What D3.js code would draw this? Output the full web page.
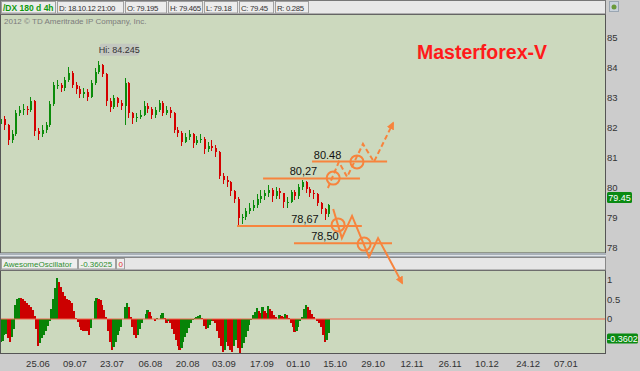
<!DOCTYPE html>
<html>
<head>
<meta charset="utf-8">
<script src="https://cdn.jsdelivr.net/npm/d3@7"></script>
<style>
  body { margin: 0; background: #cccccc; }
  svg { display: block; font-family: "Liberation Sans", Arial, sans-serif; }
</style>
</head>
<body>
<svg id="chart" width="640" height="371"></svg>
<script>
// /DX 4h chart, one candle per trading day
var firstOpen = 82.15;
var closes = [82.3,82.1,81.6,81.8,82.5,82.6,82.65,82.6,82.9,81.9,
  81.8,81.95,82.1,82.8,83.43,83.45,83.33,83.6,83.85,83.45,
  83.3,83.12,83.2,83.05,83.5,83.88,84.1,83.8,82.9,82.7,
  83.0,82.85,82.75,83.5,82.5,82.33,82.38,82.45,82.75,82.65,
  82.45,82.6,82.85,82.5,82.6,82.5,81.95,81.85,81.55,81.7,
  81.8,81.5,81.6,81.65,81.3,81.4,81.35,81.2,80.4,80.28,
  80.2,79.9,79.65,79.0,79.02,79.25,79.35,79.42,79.65,79.75,
  79.82,79.93,79.75,79.9,79.82,79.53,79.55,79.87,79.72,80.03,
  80.2,79.98,79.85,79.8,79.5,79.3,79.12,79.45];
var highs = [82.45,82.4,82.15,81.95,82.6,82.75,82.8,82.75,83.05,82.95,
  82.0,82.1,82.2,82.9,83.55,83.6,83.5,83.7,84.05,83.9,
  83.55,83.4,83.35,83.3,83.6,84.0,84.245,84.15,83.85,83.0,
  83.1,83.05,82.95,83.67,83.55,82.55,82.5,82.6,82.9,82.85,
  82.7,82.7,82.95,82.9,82.75,82.7,82.55,82.05,81.9,81.85,
  81.95,81.85,81.75,81.8,81.7,81.55,81.6,81.45,81.25,80.5,
  80.4,80.25,79.95,79.7,79.15,79.35,79.5,79.6,79.8,79.95,
  79.95,80.1,80.0,80.05,80.0,79.85,79.7,79.95,79.95,80.15,
  80.27,80.25,80.05,79.95,79.85,79.55,79.35,79.47];
var lows = [82.0,81.95,81.45,81.5,81.75,82.4,82.45,82.45,82.55,81.75,
  81.6,81.7,81.85,82.05,82.75,83.3,83.2,83.25,83.55,83.35,
  83.15,83.0,83.0,82.9,83.0,83.45,83.8,83.7,82.75,82.55,
  82.65,82.7,82.6,82.1,82.35,82.15,82.2,82.3,82.4,82.5,
  82.3,82.35,82.55,82.4,82.45,82.35,81.85,81.7,81.4,81.5,
  81.6,81.35,81.45,81.5,81.15,81.2,81.25,81.05,80.3,80.15,
  80.05,79.75,79.5,78.7,78.8,78.95,79.15,79.25,79.35,79.5,
  79.6,79.7,79.55,79.65,79.65,79.35,79.35,79.5,79.6,79.65,
  79.95,79.85,79.7,79.65,79.4,79.15,78.95,79.05];

// Awesome Oscillator, two values per trading day
var aoValues = [-0.6,-0.57,-0.42,-0.38,-0.5,-0.6,-0.45,-0.25,0.35,0.52,
  0.55,0.53,0.5,0.45,0.4,0.37,0.31,0.22,0.08,-0.25,
  -0.68,-0.62,-0.5,-0.4,-0.3,-0.18,-0.05,0.25,0.5,0.8,
  1.05,0.95,0.82,0.7,0.6,0.52,0.48,0.45,0.4,0.2,
  0.02,-0.08,-0.2,-0.27,-0.3,-0.3,-0.32,-0.4,-0.22,0.0,
  0.45,0.55,0.5,0.48,0.35,0.22,0.05,-0.3,-0.6,-0.8,
  -0.72,-0.58,-0.42,-0.3,-0.2,0.0,0.3,0.42,0.3,0.05,
  -0.2,-0.42,-0.48,-0.42,-0.25,-0.1,0.0,0.12,0.23,0.18,
  0.08,0.0,-0.05,0.03,0.0,0.1,0.15,0.02,-0.1,-0.06,
  -0.1,-0.25,-0.38,-0.55,-0.68,-0.8,-0.75,-0.6,-0.45,-0.35,
  -0.22,-0.1,-0.02,0.03,0.05,0.08,0.1,0.02,-0.18,-0.25,
  -0.23,-0.15,-0.05,-0.05,-0.1,-0.3,-0.5,-0.7,-0.85,-0.8,
  -0.6,-0.7,-0.8,-0.85,-0.7,-0.55,-0.75,-0.9,-0.75,-0.62,
  -0.45,-0.3,-0.15,-0.02,0.1,0.18,0.27,0.2,0.15,0.3,
  0.2,0.15,0.33,0.25,0.2,0.1,0.05,0.0,0.1,0.08,
  0.05,0.12,0.1,0.03,-0.1,-0.2,-0.33,-0.3,-0.2,-0.05,
  0.05,0.25,0.37,0.3,0.22,0.12,0.05,0.0,-0.05,-0.1,
  -0.2,-0.4,-0.6,-0.55,-0.36];

// trading-day index of each date label (holidays make the spacing uneven)
var dateTickDays = [10,19.8,29.6,39.8,49.7,59.3,69.4,79,88.8,98.9,109.2,119.3,129.1,140,150];
var dateLabels = ["25.06","09.07","23.07","06.08","20.08","03.09","17.09","01.10",
  "15.10","29.10","12.11","26.11","10.12","24.12","07.01"];
var priceTicks = [78,79,80,81,82,83,84,85];
var aoTicks = [1, 0.5, 0, -0.5];

var headerCells = ["/DX 180 d 4h","D: 18.10.12 21:00","O: 79.195","H: 79.465","L: 79.18","C: 79.45","R: 0.285"];
var lastPrice = 79.45;
var lastAO = "-0.36025";

// hand drawn levels and forecast zigzags (day index, price)
var levelPrices = [80.88, 80.32, 78.73, 78.16];
var levelLabels = ["80.48", "80,27", "78,67", "78,50"];
var levelFrom = [82.7, 69.7, 62.8, 77.9];
var levelTo = [102.6, 95.4, 95.9, 103.9];
var levelLabelDay = [86.8, 80.4, 80.8, 86.1];
var upDays = [86.9, 89.8, 92.0, 96.2, 99.1, 104.2];
var upPrices = [80.0, 80.87, 80.37, 81.47, 80.87, 82.17];
var downDays = [88.3, 90.6, 93.3, 97.8, 100.2, 106.6];
var downPrices = [79.3, 78.33, 79.07, 77.7, 78.33, 76.83];
var circleDays = [88.3, 94.6, 89.6, 96.5];
var circlePrices = [80.33, 80.87, 78.77, 78.13];

var GREEN = "#0b8c0b", RED = "#d40000", ORANGE = "#f7843d";
var BG = "#ccd9be";

var svg = d3.select("#chart");
var W = 640, H = 371, panelR = 605;

var x = d3.scaleLinear().domain([0, 160]).range([0.3, 0.3 + 160 * 3.77]);
var y = d3.scaleLinear().domain([78, 85]).range([248, 38]);
var yAO = d3.scaleLinear().domain([-0.872, 1.256]).range([353, 270]);

// backgrounds
svg.append("rect").attr("width", W).attr("height", H).attr("fill", "#cccccc");
svg.append("rect").attr("x", 0.5).attr("y", 14.5).attr("width", panelR).attr("height", 238.5)
  .attr("fill", BG).attr("stroke", "#555").attr("stroke-width", 1);
svg.append("rect").attr("x", 0.5).attr("y", 270.5).attr("width", panelR).attr("height", 83)
  .attr("fill", BG).attr("stroke", "#555").attr("stroke-width", 1);

svg.append("clipPath").attr("id", "clipMain").append("rect")
  .attr("x", 1).attr("y", 15).attr("width", panelR - 1).attr("height", 238);
svg.append("clipPath").attr("id", "clipAO").append("rect")
  .attr("x", 1).attr("y", 271).attr("width", panelR - 1).attr("height", 82);

// separator band between panels
svg.append("rect").attr("x", 0).attr("y", 253).attr("width", panelR + 1).attr("height", 4)
  .attr("fill", "#a9b1b9");
svg.append("line").attr("x1", 0).attr("x2", panelR + 1).attr("y1", 255.5).attr("y2", 255.5)
  .attr("stroke", "#e0e4e8");
svg.append("rect").attr("x", 0.5).attr("y", 257.5).attr("width", panelR).attr("height", 12.5)
  .attr("fill", "#e6e6e6").attr("stroke", "#888");

// candles
var bars = closes.map(function(c, i) {
  return { d: i, o: i == 0 ? firstOpen : closes[i - 1], h: highs[i], l: lows[i], c: c };
});
var gc = svg.append("g").attr("clip-path", "url(#clipMain)").attr("shape-rendering", "crispEdges");
var cand = gc.selectAll("g.c").data(bars).enter().append("g").attr("class", "c");
cand.append("line")
  .attr("x1", function(b) { return Math.round(x(b.d)) + 0.5; })
  .attr("x2", function(b) { return Math.round(x(b.d)) + 0.5; })
  .attr("y1", function(b) { return y(b.h); })
  .attr("y2", function(b) { return y(b.l); })
  .attr("stroke", function(b) { return b.c >= b.o ? GREEN : RED; })
  .attr("stroke-width", 1);
cand.append("rect")
  .attr("x", function(b) { return Math.round(x(b.d)) - 0.5; })
  .attr("width", 2)
  .attr("y", function(b) { return y(Math.max(b.o, b.c)); })
  .attr("height", function(b) { return Math.max(1, Math.abs(y(b.o) - y(b.c))); })
  .attr("fill", function(b) { return b.c >= b.o ? GREEN : RED; });

// AO histogram
var ga = svg.append("g").attr("clip-path", "url(#clipAO)").attr("shape-rendering", "crispEdges");
ga.selectAll("rect").data(aoValues).enter().append("rect")
  .attr("x", function(v, i) { return x(i / 2 - 0.25); })
  .attr("width", x(0.5) - x(0) + 0.4)
  .attr("y", function(v) { return Math.min(yAO(v), yAO(0)); })
  .attr("height", function(v) { return Math.abs(yAO(v) - yAO(0)); })
  .attr("fill", function(v, i) { return (i == 0 || v > aoValues[i - 1]) ? "#078407" : "#cc0000"; });
svg.append("line").attr("x1", 1).attr("x2", panelR).attr("y1", yAO(0)).attr("y2", yAO(0))
  .attr("stroke", "#f0644a").attr("stroke-width", 1.2);

// right axes
svg.selectAll("text.pt").data(priceTicks).enter().append("text")
  .attr("x", 607).attr("y", function(p) { return y(p); }).attr("dy", "0.35em")
  .attr("font-size", 9.5).attr("fill", "#333").text(function(p) { return p; });
svg.selectAll("text.at").data(aoTicks).enter().append("text")
  .attr("x", 607).attr("y", function(v) { return yAO(v); }).attr("dy", "0.35em")
  .attr("font-size", 9.5).attr("fill", "#333").text(function(v) { return v; });

// bottom date axis
svg.selectAll("text.dt").data(dateTickDays).enter().append("text")
  .attr("x", function(d) { return x(d); }).attr("y", 364).attr("dy", "0.35em")
  .attr("text-anchor", "middle").attr("font-size", 9.5).attr("fill", "#333")
  .text(function(d, i) { return dateLabels[i]; });

// price markers
var pm = svg.append("g").attr("transform", "translate(607," + (y(lastPrice) - 12.5) + ")");
pm.append("rect").attr("width", 25).attr("height", 11).attr("rx", 1.5).attr("fill", "#0a8a12");
pm.append("text").attr("x", 12.5).attr("y", 5.5).attr("dy", "0.35em").attr("text-anchor", "middle")
  .attr("font-size", 9).attr("fill", "#fff").text(lastPrice.toFixed(2));
var am = svg.append("g").attr("transform", "translate(607," + (yAO(-0.36) + 0.5) + ")");
am.append("rect").attr("width", 31).attr("height", 10).attr("rx", 1.5).attr("fill", "#0a8a12");
am.append("text").attr("x", 15.5).attr("y", 5).attr("dy", "0.35em").attr("text-anchor", "middle")
  .attr("font-size", 9).attr("fill", "#fff").text("-0.3602");

// header strip
var cellX = [0, 56, 124, 167, 203, 238, 274, 309];
svg.append("rect").attr("x", 0.5).attr("y", 0.5).attr("width", panelR).attr("height", 13.5)
  .attr("fill", "#e8e8e8").attr("stroke", "#777");
headerCells.forEach(function(t, i) {
  svg.append("rect").attr("x", cellX[i] + 1.5).attr("y", 1.5)
    .attr("width", cellX[i + 1] - cellX[i] - 2).attr("height", 11.5)
    .attr("fill", "#ececec").attr("stroke", "#a0a0a0");
});
headerCells.forEach(function(t, i) {
  svg.append("text").attr("x", cellX[i] + 3).attr("y", 10.5)
    .attr("font-size", i == 0 ? 8.5 : 7.8)
    .attr("letter-spacing", i == 0 ? 0 : -0.35)
    .attr("font-weight", i == 0 ? "bold" : "normal")
    .attr("fill", i == 0 ? "#0f9a0f" : "#333").text(t);
});
// small icon at top right
svg.append("rect").attr("x", 609.5).attr("y", 1.5).attr("width", 9).attr("height", 10)
  .attr("fill", "#c9d2dc").attr("stroke", "#9aa6b2");
svg.append("circle").attr("cx", 614).attr("cy", 7).attr("r", 2.5).attr("fill", "#6a9a3a");

svg.append("text").attr("x", 4).attr("y", 24).attr("font-size", 8).attr("fill", "#7c7c7c")
  .text("2012 \u00a9 TD Ameritrade IP Company, Inc.");

// AO header cells
var aoCells = [{ t: "AwesomeOscillator", x0: 1, x1: 77, c: "#2f8f2f" },
  { t: lastAO, x0: 78, x1: 115, c: "#2f8f2f" },
  { t: "0", x0: 116, x1: 124, c: "#e03030" }];
aoCells.forEach(function(c) {
  svg.append("rect").attr("x", c.x0 + 0.5).attr("y", 258.5).attr("width", c.x1 - c.x0)
    .attr("height", 10.5).attr("fill", "#eeeeee").attr("stroke", "#a0a0a0");
  svg.append("text").attr("x", c.x0 + 2.5).attr("y", 267).attr("font-size", 8)
    .attr("fill", c.c).text(c.t);
});

// Hi label
var hiIdx = d3.maxIndex(highs);
var hiG = svg.append("g").attr("transform", "translate(" + (x(hiIdx) + 1.5) + "," + (y(highs[hiIdx]) - 17) + ")");
hiG.append("rect").attr("width", 39).attr("height", 12).attr("rx", 2).attr("fill", "#c3c8c0");
hiG.append("text").attr("x", 19.5).attr("y", 6).attr("dy", "0.35em").attr("text-anchor", "middle")
  .attr("font-size", 9).attr("fill", "#333").text("Hi: " + highs[hiIdx]);

// title
svg.append("text").attr("x", 417).attr("y", 59).attr("font-size", 19.5).attr("font-weight", "bold")
  .attr("fill", "#ff1a1a").text("Masterforex-V");

// annotations
var defs = svg.append("defs");
defs.append("marker").attr("id", "arr").attr("viewBox", "0 0 10 10").attr("refX", 8).attr("refY", 5)
  .attr("markerWidth", 4).attr("markerHeight", 4).attr("orient", "auto")
  .append("path").attr("d", "M0,0L10,5L0,10z").attr("fill", ORANGE);

var gn = svg.append("g");
levelPrices.forEach(function(p, i) {
  gn.append("line").attr("x1", x(levelFrom[i])).attr("x2", x(levelTo[i]))
    .attr("y1", y(p)).attr("y2", y(p)).attr("stroke", ORANGE).attr("stroke-width", 2);
  gn.append("text").attr("x", x(levelLabelDay[i])).attr("y", y(p) - 3)
    .attr("text-anchor", "middle").attr("font-size", 11).attr("fill", "#111").text(levelLabels[i]);
});
var zz = d3.line().x(function(d) { return x(d[0]); }).y(function(d) { return y(d[1]); });
gn.append("path").attr("d", zz(d3.zip(upDays, upPrices))).attr("fill", "none")
  .attr("stroke", ORANGE).attr("stroke-width", 2).attr("stroke-dasharray", "5,3")
  .attr("marker-end", "url(#arr)");
gn.append("path").attr("d", zz(d3.zip(downDays, downPrices))).attr("fill", "none")
  .attr("stroke", ORANGE).attr("stroke-width", 2).attr("marker-end", "url(#arr)");
circleDays.forEach(function(d, i) {
  gn.append("circle").attr("cx", x(d)).attr("cy", y(circlePrices[i])).attr("r", 6.5)
    .attr("fill", "none").attr("stroke", ORANGE).attr("stroke-width", 2);
});
</script>
</body>
</html>
